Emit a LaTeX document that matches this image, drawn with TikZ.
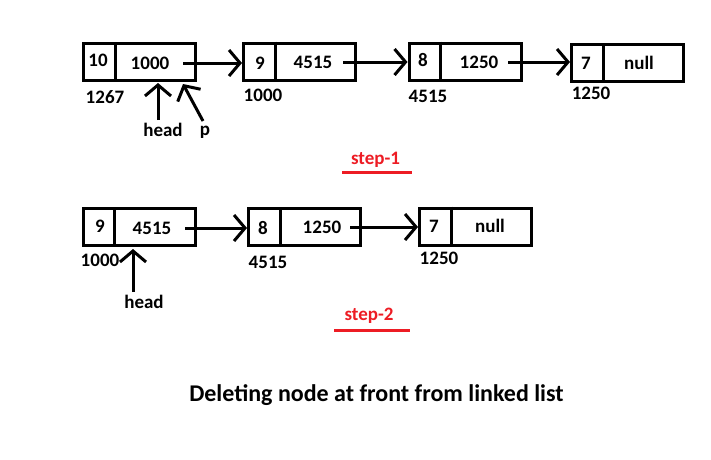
\documentclass[tikz,border=0pt]{standalone}
\usepackage{fontspec}
\setmainfont{Carlito}
\usetikzlibrary{arrows.meta}
\definecolor{stepred}{RGB}{237,28,36}
\begin{document}
\begin{tikzpicture}[x=1pt,y=-1pt,
  cell/.style={draw, line width=3pt, minimum width=112pt, minimum height=37pt, inner sep=0pt},
  txt/.style={font=\fontsize{19}{22}\selectfont\bfseries, inner sep=0pt},
  ptr/.style={line width=3pt, -{Straight Barb[length=11pt,width=26pt]}},
  stepl/.style={font=\fontsize{19}{22}\selectfont\bfseries, text=stepred, inner sep=0pt},
  uline/.style={draw=stepred, line width=3pt},
  divider/.style={line width=3pt}
]
\useasboundingbox (0,0) rectangle (711,459);

% ---------- step 1 ----------
\node[cell] (n1) at (139.5,62) {};
\node[cell] (n2) at (299.5,61.5) {};
\node[cell] (n3) at (465,61.5) {};
\node[cell] (n4) at (627.5,63) {};
\foreach \n in {n1,n2,n3,n4}
  \draw[divider] ([xshift=33pt]\n.north west) -- ([xshift=33pt]\n.south west);

\node[txt] (d1) at (98,60) {10};
\node[txt] (p1) at (150,63) {1000};
\node[txt] (a1) at (105,97) {1267};
\node[txt] (d2) at (260,63) {9};
\node[txt] (p2) at (313,62) {4515};
\node[txt] (a2) at (263,95) {1000};
\node[txt] (d3) at (423,60) {8};
\node[txt] (p3) at (479,62) {1250};
\node[txt] (a3) at (428,96) {4515};
\node[txt] (d4) at (586,63) {7};
\node[txt] (p4) at (639,63) {null};
\node[txt] (a4) at (591,93) {1250};

\draw[ptr] ([xshift=14pt]p1.east) -- (n2.west |- p1.east);
\draw[ptr] ([xshift=11pt]p2.east) -- (n3.west |- p2.east);
\draw[ptr] ([xshift=10pt]p3.east) -- (n4.west |- p3.east);

\node[txt] (h1) at (163,130) {head};
\node[txt] (pp) at (205,132.5) {p};
\coordinate (h1tip) at (158,83);
\coordinate (pptip) at (183,84);
\draw[ptr] (158,120) -- (h1tip);
\draw[ptr] (203,121) -- (pptip);

\node[stepl] (s1) at (375.5,160) {step-1};
\draw[uline] (342,172) -- (412,172);

% ---------- step 2 ----------
\node[cell] (m1) at (139,227) {};
\node[cell] (m2) at (304.5,227) {};
\node[cell] (m3) at (475.5,226.5) {};
\foreach \n in {m1,m2,m3}
  \draw[divider] ([xshift=33pt]\n.north west) -- ([xshift=33pt]\n.south west);

\node[txt] (e1) at (100,226) {9};
\node[txt] (q1) at (152,228) {4515};
\node[txt] (b1) at (100,260) {1000};
\node[txt] (e2) at (263,228) {8};
\node[txt] (q2) at (322,227) {1250};
\node[txt] (b2) at (268,262) {4515};
\node[txt] (e3) at (434,226) {7};
\node[txt] (q3) at (490,226) {null};
\node[txt] (b3) at (439,258) {1250};

\draw[ptr] ([xshift=14pt]q1.east) -- (m2.west |- q1.east);
\draw[ptr] ([xshift=9pt]q2.east) -- (m3.west |- q2.east);

\node[txt] (h2) at (144,302) {head};
\coordinate (h2tip) at (133,249);
\draw[ptr] (133,292) -- (h2tip);

\node[stepl] (s2) at (369,316) {step-2};
\draw[uline] (334,330) -- (410,330);

% ---------- title ----------
\node[font=\fontsize{24}{28}\selectfont\bfseries, inner sep=0pt] (title) at (376.5,395) {Deleting node at front from linked list};
\end{tikzpicture}
\end{document}
